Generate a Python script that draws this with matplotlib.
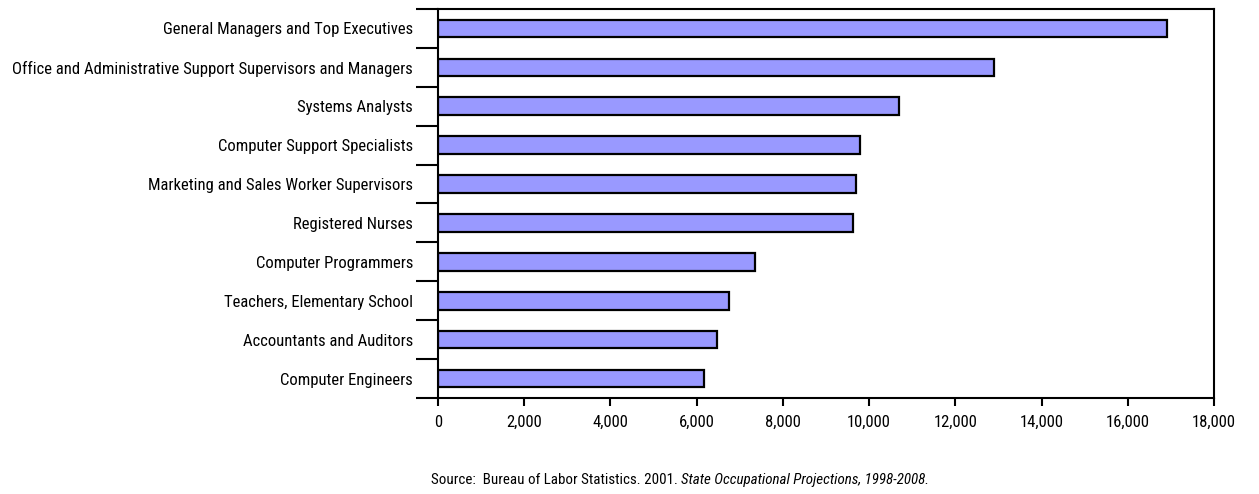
import numpy as np
import matplotlib.pyplot as plt
from matplotlib import font_manager

# Occupations with the most annual openings, 1998-2008
occupations = [
    "General Managers and Top Executives",
    "Office and Administrative Support Supervisors and Managers",
    "Systems Analysts",
    "Computer Support Specialists",
    "Marketing and Sales Worker Supervisors",
    "Registered Nurses",
    "Computer Programmers",
    "Teachers, Elementary School",
    "Accountants and Auditors",
    "Computer Engineers",
]
openings = [16900, 12900, 10700, 9800, 9700, 9630, 7350, 6750, 6470, 6170]
x_ticks = list(range(0, 18001, 2000))

# prefer a narrow face if one is around
names = {f.name for f in font_manager.fontManager.ttflist}
candidates = ["Liberation Sans Narrow", "Roboto Condensed", "Open Sans Condensed",
              "DejaVu Sans Condensed", "Roboto"]
family = next((c for c in candidates if c in names), "DejaVu Sans")
plt.rcParams["font.family"] = [family, "DejaVu Sans"]

fig = plt.figure(figsize=(12.59, 4.94), dpi=100)
ax = fig.add_axes([438 / 1259, 1 - 398 / 494, 776 / 1259, 389 / 494])

y = np.arange(len(occupations))
ax.barh(y, openings, height=0.45, color="#9999ff", edgecolor="black", linewidth=1.6)

ax.set_xlim(0, 18000)
ax.set_ylim(len(occupations) - 0.5, -0.5)

# size the labels so the longest one fits left of the axes
renderer = fig.canvas.get_renderer()
probe = fig.text(0, 0, max(occupations, key=len), fontsize=10)
w = probe.get_window_extent(renderer).width
probe.remove()
label_size = min(12, 10 * 403 / w)

ax.set_xticks(x_ticks)
ax.set_xticklabels([f"{v:,}" for v in x_ticks], fontsize=label_size)
ax.tick_params(axis="x", length=6, width=1.5, pad=6, color="black")

# labels sit on bar centres, ticks sit between categories
ax.set_yticks(y)
ax.set_yticklabels(occupations, fontsize=label_size)
ax.tick_params(axis="y", which="major", length=0, pad=18)
ax.set_yticks(np.arange(-0.5, len(occupations)), minor=True)
ax.tick_params(axis="y", which="minor", length=16, width=1.5, color="black")

for side in ["left", "bottom", "right", "top"]:
    ax.spines[side].set_linewidth(1.5)
    ax.spines[side].set_color("black")

# source line, centred under the chart
src_size = label_size * 0.9
t1 = fig.text(0, 0.028, "Source:  Bureau of Labor Statistics. 2001. ", fontsize=src_size,
              ha="left", va="center")
t2 = fig.text(0, 0.028, "State Occupational Projections, 1998-2008.", fontsize=src_size,
              ha="left", va="center", style="italic")
w1 = t1.get_window_extent(renderer).width
w2 = t2.get_window_extent(renderer).width
start = 680 - (w1 + w2) / 2
t1.set_x(start / 1259)
t2.set_x((start + w1) / 1259)

fig.savefig("out.png", dpi=100)
